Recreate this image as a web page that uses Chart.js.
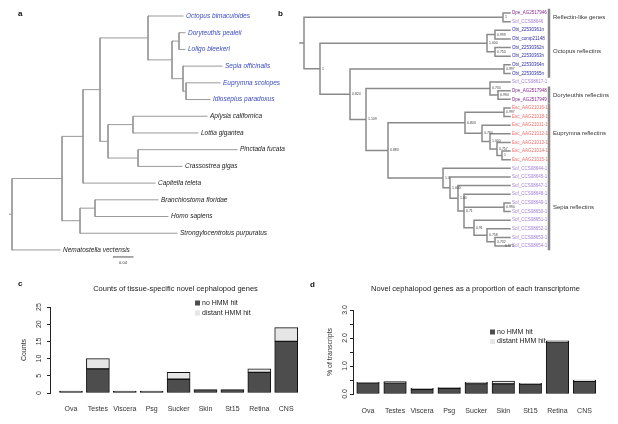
<!DOCTYPE html>
<html>
<head>
<meta charset="utf-8">
<script src="https://cdn.jsdelivr.net/npm/chart.js@4.4.1/dist/chart.umd.min.js"></script>
<style>
  body { margin: 0; background: #fff; width: 618px; height: 424px; position: relative; overflow: hidden; }
  canvas, .tag { position: absolute; }
  .tag { font: bold 8px "Liberation Sans", Arial, sans-serif; line-height: 1; color: #111; }
</style>
</head>
<body>
<canvas id="treeA" width="292" height="270" style="left:0;top:0"></canvas>
<canvas id="treeB" width="322" height="262" style="left:296px;top:0"></canvas>
<canvas id="countChart" width="310" height="152" style="left:0;top:272px"></canvas>
<canvas id="pctChart" width="308" height="152" style="left:310px;top:272px"></canvas>
<div class="tag" style="left:18px;top:10px">a</div>
<div class="tag" style="left:278px;top:10px">b</div>
<div class="tag" style="left:18px;top:280px">c</div>
<div class="tag" style="left:310px;top:281px">d</div>
<script>
// ---- panel a: species tree (id, parent, depth in subst./site) ----
const aNodes = [
  ['root', null, 0],
  ['bilat', 'root', 0.100],
  ['loph', 'bilat', 0.142],
  ['moll', 'loph', 0.176],
  ['ceph', 'moll', 0.272],
  ['deca', 'ceph', 0.320],
  ['lolig', 'deca', 0.334],
  ['sepi', 'deca', 0.342],
  ['sepi2', 'sepi', 0.348],
  ['gb', 'moll', 0.192],
  ['gast', 'gb', 0.242],
  ['biv', 'gb', 0.252],
  ['deut', 'bilat', 0.136],
  ['chord', 'deut', 0.166]
];
const aLeaves = [
  ['Octopus bimaculoides', 'ceph', 0.342],
  ['Doryteuthis pealeii', 'lolig', 0.346],
  ['Loligo bleekeri', 'lolig', 0.346],
  ['Sepia officinalis', 'sepi', 0.420],
  ['Euprymna scolopes', 'sepi2', 0.416],
  ['Idiosepius paradoxus', 'sepi2', 0.396],
  ['Aplysia californica', 'gast', 0.390],
  ['Lottia gigantea', 'gast', 0.372],
  ['Pinctada fucata', 'biv', 0.450],
  ['Crassostrea gigas', 'biv', 0.340],
  ['Capitella teleta', 'loph', 0.286],
  ['Branchiostoma floridae', 'chord', 0.292],
  ['Homo sapiens', 'chord', 0.312],
  ['Strongylocentrotus purpuratus', 'deut', 0.330],
  ['Nematostella vectensis', 'root', 0.096]
];
const aCephCount = 6;
const aScaleBar = 0.04;

// ---- panel b: reflectin gene tree (id, parent, depth, support) ----
const bNodes = [
  ['rootB', null, 0, ''],
  ['rl', 'rootB', 0.995, '1'],
  ['r1', 'rootB', 0.08, '1'],
  ['oct', 'r1', 0.915, '1.000'],
  ['oct1', 'oct', 0.955, '0.999'],
  ['oct2', 'oct', 0.955, '0.750'],
  ['r2', 'r1', 0.23, '0.824'],
  ['oct3', 'r2', 1.0, '0.997'],
  ['r3', 'r2', 0.31, '1.109'],
  ['dor', 'r3', 0.93, '0.734'],
  ['dor2', 'dor', 0.97, '0.994'],
  ['r4', 'r3', 0.42, '0.883'],
  ['eup', 'r4', 0.805, '0.803'],
  ['eup1', 'eup', 1.0, '0.997'],
  ['eup2', 'eup', 0.89, '0.794'],
  ['eup3', 'eup2', 0.93, '1.000'],
  ['eup4', 'eup3', 0.965, '0.757'],
  ['eup5', 'eup4', 0.99, '1'],
  ['sep1', 'r4', 0.695, '1.0'],
  ['sep2', 'sep1', 0.73, '1.000'],
  ['sep3', 'sep2', 0.77, '1.00'],
  ['sep4', 'sep3', 0.80, '0.71'],
  ['sepA', 'sep4', 1.0, '0.994'],
  ['sep5', 'sep4', 0.85, '0.91'],
  ['sep6', 'sep5', 0.915, '0.758'],
  ['sep7', 'sep6', 0.955, '0.732'],
  ['sep8', 'sep7', 0.995, '0.974']
];
const bLeaves = [
  ['Dpe_AG2517946', 'rl'], ['Sof_CCS08646', 'rl'],
  ['Obi_22530361n', 'oct1'], ['Obi_comp21148', 'oct1'],
  ['Obi_22530362n', 'oct2'], ['Obi_22530363n', 'oct2'],
  ['Obi_22530364n', 'oct3'], ['Obi_22530365n', 'oct3'],
  ['Sof_CCS08617-1', 'dor'], ['Dpe_AG2517948', 'dor2'], ['Dpe_AG2517949', 'dor2'],
  ['Esc_AAG21016-1', 'eup1'], ['Esc_AAG21018-1', 'eup1'], ['Esc_AAG21011-1', 'eup2'],
  ['Esc_AAG21012-1', 'eup3'], ['Esc_AAG21013-1', 'eup4'], ['Esc_AAG21014-1', 'eup5'],
  ['Esc_AAG21015-1', 'eup5'],
  ['Sof_CCS08644-1', 'sep1'], ['Sof_CCS08645-1', 'sep2'], ['Sof_CCS08647-1', 'sep3'],
  ['Sof_CCS08648-1', 'sep4'], ['Sof_CCS08649-1', 'sepA'], ['Sof_CCS08650-1', 'sepA'],
  ['Sof_CCS08651-1', 'sep5'], ['Sof_CCS08652-1', 'sep6'], ['Sof_CCS08653-1', 'sep7'],
  ['Sof_CCS08654-1', 'sep8']
];
const bTipDepth = 1.03;
const bClades = [
  ['Reflectin-like genes', 0, 1],
  ['Octopus reflectins', 2, 7],
  ['Doryteuthis reflectins', 9, 10],
  ['Euprymna reflectins', 11, 17],
  ['Sepia reflectins', 18, 27]
];
const prefixColors = { Dpe: '#8e2c94', Sof: '#a67fd8', Obi: '#2a2aa6', Esc: '#f26b6b' };

// ---- panels c, d: bars ----
const tissues = ['Ova', 'Testes', 'Viscera', 'Psg', 'Sucker', 'Skin', 'St15', 'Retina', 'CNS'];
const countNoHit = [0, 7, 0, 0, 4, 1, 1, 6, 15];
const countDistant = [0, 3, 0, 0, 2, 0, 0, 1, 4];
const countTicks = [0, 5, 10, 15, 20, 25];
const pctNoHit = [0.40, 0.40, 0.17, 0.20, 0.37, 0.36, 0.35, 1.86, 0.45];
const pctDistant = [0.02, 0.04, 0.03, 0.03, 0.05, 0.10, 0.03, 0.04, 0.05];
const pctTicks = [0, 0.5, 1, 1.5, 2, 2.5, 3];

Chart.defaults.font.family = '"Liberation Sans", Arial, sans-serif';
Chart.defaults.color = '#333';

function layoutTree(nodes, leaves, tipDepth) {
  const all = {};
  nodes.forEach(([id, parent, depth, support]) => { all[id] = { id, parent, depth, support, kids: [] }; });
  leaves.forEach(([name, parent, depth], i) => {
    all[name] = { id: name, parent, depth: depth !== undefined ? depth : tipDepth, kids: [], y: i, leaf: true };
  });
  Object.values(all).forEach(n => { if (n.parent) all[n.parent].kids.push(n); });
  const getY = n => {
    if (n.y === undefined) {
      const ys = n.kids.map(getY);
      n.y = (Math.min(...ys) + Math.max(...ys)) / 2;
    }
    return n.y;
  };
  Object.values(all).forEach(getY);
  return all;
}

function treeSegments(all, stem) {
  const pts = [];
  const gap = { x: null, y: null };
  Object.values(all).forEach(n => {
    if (n.parent) {
      const p = all[n.parent];
      pts.push({ x: p.depth, y: n.y }, { x: n.depth, y: n.y }, gap);
    } else {
      pts.push({ x: n.depth - stem, y: n.y }, { x: n.depth, y: n.y }, gap);
    }
    if (n.kids.length) {
      const ys = n.kids.map(k => k.y);
      pts.push({ x: n.depth, y: Math.min(...ys) }, { x: n.depth, y: Math.max(...ys) }, gap);
    }
  });
  return pts;
}

function textPlugin(items) {
  return {
    id: 'treeText',
    afterDatasetsDraw(chart) {
      const { ctx, scales: { x, y } } = chart;
      ctx.save();
      ctx.textBaseline = 'middle';
      items.forEach(it => {
        ctx.font = it.f;
        ctx.fillStyle = it.c;
        ctx.textAlign = it.align || 'left';
        ctx.fillText(it.t, x.getPixelForValue(it.x) + (it.dx || 0), y.getPixelForValue(it.y));
      });
      ctx.restore();
    }
  };
}

function treeChart(id, datasets, xRange, yRange, items) {
  return new Chart(document.getElementById(id), {
    type: 'scatter',
    data: { datasets },
    options: {
      responsive: false,
      animation: false,
      layout: { padding: 0 },
      plugins: { legend: { display: false }, tooltip: { enabled: false } },
      scales: {
        x: { type: 'linear', display: false, min: xRange[0], max: xRange[1] },
        y: { type: 'linear', display: false, reverse: true, min: yRange[0], max: yRange[1] }
      }
    },
    plugins: [textPlugin(items)]
  });
}

function lineSet(data, color, width) {
  return { data, showLine: true, spanGaps: false, borderColor: color, borderWidth: width,
    pointRadius: 0, borderCapStyle: 'square', borderJoinStyle: 'miter' };
}

// tree a
const treeA = layoutTree(aNodes, aLeaves);
const aItems = aLeaves.map(([name], i) => ({
  t: name, x: treeA[name].depth, y: i, dx: 3,
  f: 'italic 6.5px "Liberation Sans", Arial, sans-serif',
  c: i < aCephCount ? '#3b4cc0' : '#222'
}));
const aBarStart = 0.202, aBarY = 14.42;
aItems.push({ t: String(aScaleBar), x: aBarStart + aScaleBar / 2, y: aBarY + 0.33, align: 'center',
  f: '4px "Liberation Sans", Arial, sans-serif', c: '#333' });
treeChart('treeA', [
  lineSet(treeSegments(treeA, 0.006), '#9a9a9a', 1),
  lineSet([{ x: aBarStart, y: aBarY }, { x: aBarStart + aScaleBar, y: aBarY }], '#555', 1)
], [-0.024, 0.56], [-0.9575, 15.2], aItems);

// tree b
const treeB = layoutTree(bNodes, bLeaves, bTipDepth);
const bItems = bLeaves.map(([name], i) => ({
  t: name, x: bTipDepth, y: i, dx: 2,
  f: '4.5px "Liberation Sans", Arial, sans-serif', c: prefixColors[name.slice(0, 3)]
}));
bNodes.forEach(([id, , depth, support]) => {
  if (support) bItems.push({ t: support, x: depth, y: treeB[id].y, dx: 2,
    f: '3.5px "Liberation Sans", Arial, sans-serif', c: '#444' });
});
const cladeX = 1.225;
const cladeBars = [];
bClades.forEach(([label, a, b]) => {
  cladeBars.push({ x: cladeX, y: a - 0.35 }, { x: cladeX, y: b + 0.35 }, { x: null, y: null });
  bItems.push({ t: label, x: cladeX, y: (a + b) / 2, dx: 4,
    f: '6px "Liberation Sans", Arial, sans-serif', c: '#333' });
});
treeChart('treeB', [
  lineSet(treeSegments(treeB, 0.02), '#8a8a8a', 1.5),
  lineSet(cladeBars, '#888', 2.5)
], [-0.04, 1.57], [-1.506, 28.85], bItems);

// bar panels
const panelText = {
  id: 'panelText',
  afterDraw(chart, args, o) {
    const { ctx, chartArea } = chart;
    ctx.save();
    ctx.textBaseline = 'middle';
    ctx.font = '7.5px "Liberation Sans", Arial, sans-serif';
    ctx.fillStyle = '#222';
    ctx.textAlign = 'center';
    ctx.fillText(o.title, (chartArea.left + chartArea.right) / 2, o.titleY);
    ctx.textAlign = 'left';
    ctx.font = '7px "Liberation Sans", Arial, sans-serif';
    chart.data.datasets.forEach((ds, i) => {
      const y = o.legendY + i * o.legendGap;
      ctx.fillStyle = ds.backgroundColor;
      ctx.fillRect(o.legendX, y - 2.5, 5, 5);
      ctx.fillStyle = '#222';
      ctx.fillText(ds.label, o.legendX + 7, y);
    });
    ctx.restore();
  }
};

function barChart(id, noHit, distant, ticks, o) {
  const pts = arr => arr.map((v, i) => ({ x: i, y: v }));
  const common = { borderColor: '#111', borderWidth: 1, borderSkipped: false, barThickness: o.barW };
  return new Chart(document.getElementById(id), {
    type: 'bar',
    data: {
      datasets: [
        Object.assign({ label: 'no HMM hit', data: pts(noHit), backgroundColor: '#4d4d4d', minBarLength: 2 }, common),
        Object.assign({ label: 'distant HMM hit', data: pts(distant), backgroundColor: '#e6e6e6' }, common)
      ]
    },
    options: {
      responsive: false,
      animation: false,
      layout: { padding: { top: o.top, right: o.right, left: 0, bottom: 0 } },
      plugins: { legend: { display: false }, tooltip: { enabled: false }, panelText: o.text },
      scales: {
        x: {
          type: 'linear', stacked: true, offset: false, min: o.xMin, max: o.xMax,
          afterBuildTicks: s => { s.ticks = tissues.map((t, i) => ({ value: i })); },
          afterFit: s => { s.height = o.bottom; },
          ticks: { autoSkip: false, maxRotation: 0, padding: o.xPad, font: { size: 7 }, callback: v => tissues[v] },
          grid: { display: false, offset: false },
          border: { display: false }
        },
        y: {
          stacked: true, min: 0, max: ticks[ticks.length - 1],
          afterBuildTicks: s => { s.ticks = ticks.map(v => ({ value: v })); },
          afterFit: s => { s.width = o.left; },
          ticks: { autoSkip: false, minRotation: 90, maxRotation: 90, crossAlign: 'center', padding: o.yPad,
            font: { size: 7 }, callback: o.yFmt },
          grid: { drawOnChartArea: false, drawTicks: true, tickLength: 3, color: '#222' },
          border: { display: true, color: '#222', width: 1 },
          title: { display: true, text: o.yTitle, font: { size: 7 }, padding: { top: o.yTitlePad, bottom: 0 } }
        }
      }
    },
    plugins: [panelText]
  });
}

barChart('countChart', countNoHit, countDistant, countTicks, {
  barW: 23, top: 35, right: 9, bottom: 31, left: 50, xMin: -0.78, xMax: 8.55, xPad: 4, yPad: 4,
  yTitle: 'Counts', yTitlePad: 20, yFmt: v => String(v),
  text: { title: 'Counts of tissue-specific novel cephalopod genes', titleY: 17, legendX: 195, legendY: 31, legendGap: 10 }
});

barChart('pctChart', pctNoHit, pctDistant, pctTicks, {
  barW: 22.5, top: 38, right: 20, bottom: 30, left: 43, xMin: -0.554, xMax: 8.5, xPad: 5, yPad: 0,
  yTitle: '% of transcripts', yTitlePad: 16, yFmt: v => (Number.isInteger(v) ? v.toFixed(1) : ''),
  text: { title: 'Novel cephalopod genes as a proportion of each transcriptome', titleY: 17, legendX: 180, legendY: 60, legendGap: 9.5 }
});
</script>
</body>
</html>
